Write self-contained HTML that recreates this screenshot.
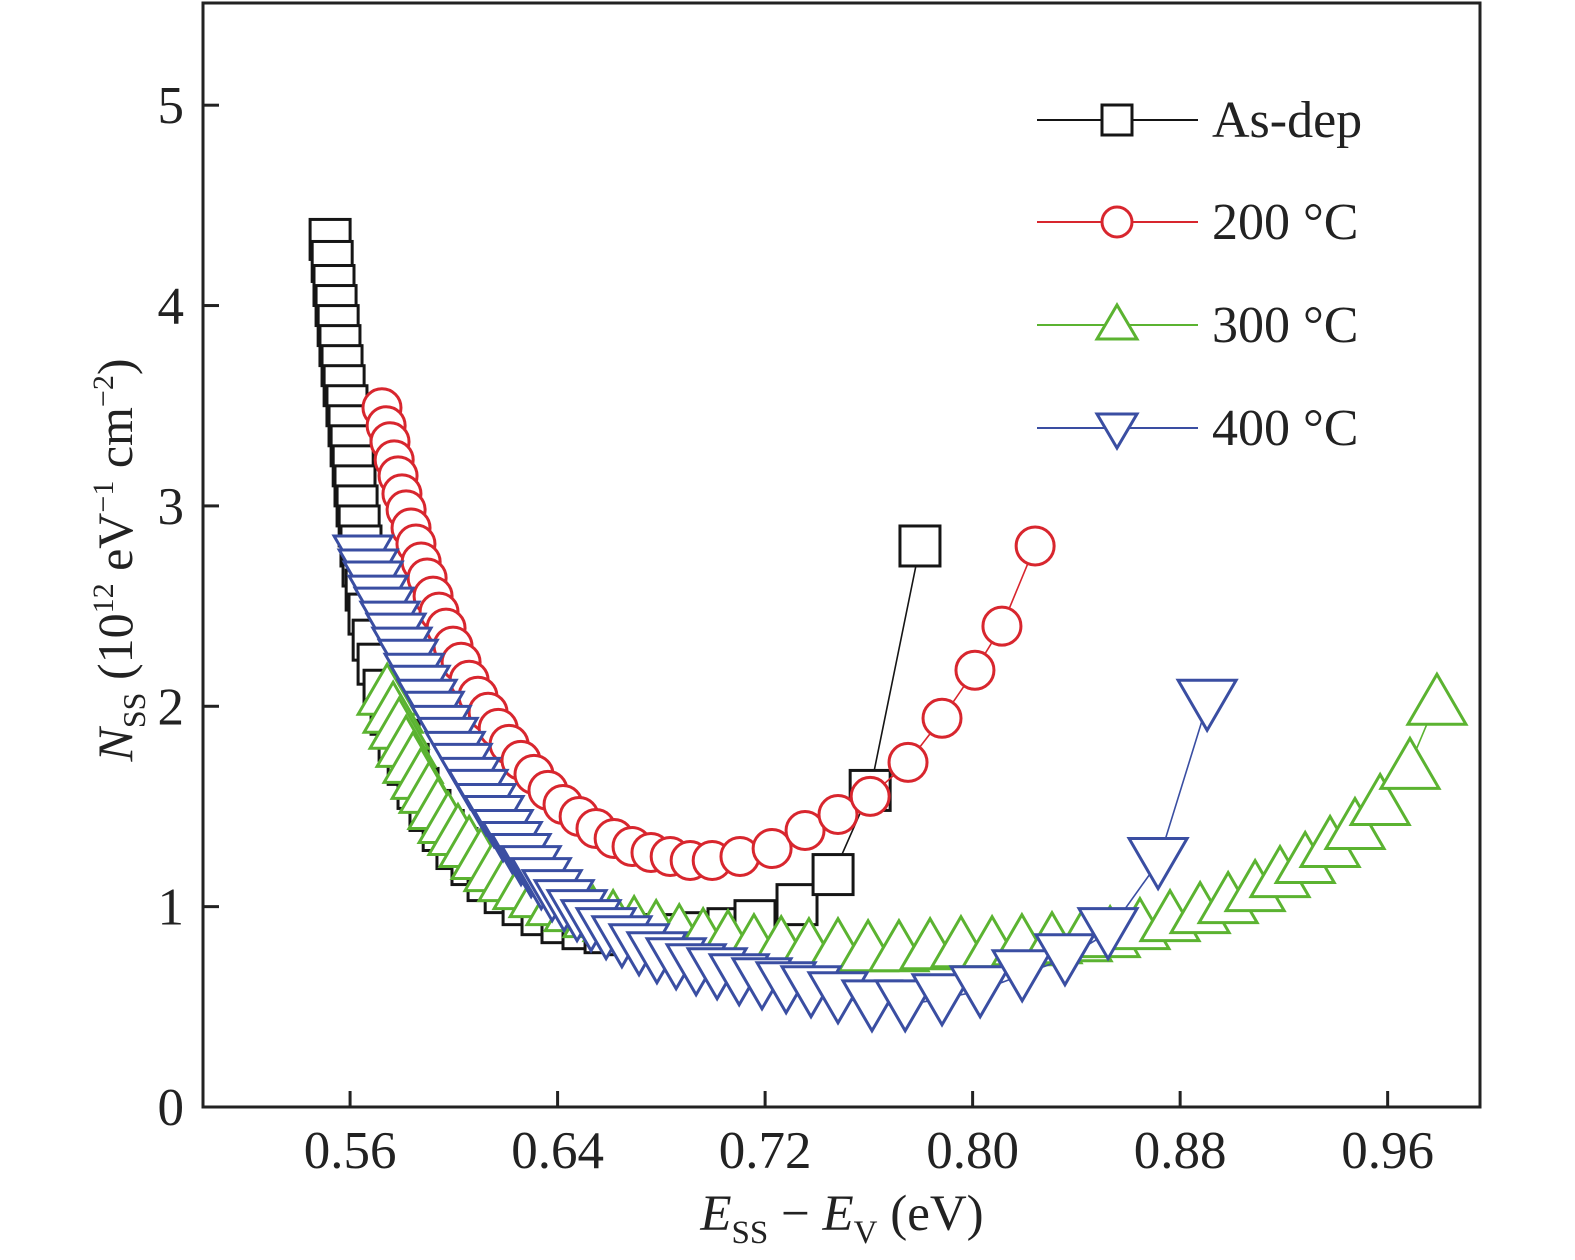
<!DOCTYPE html>
<html><head><meta charset="utf-8"><style>
html,body{margin:0;padding:0;background:#fff;}
svg{display:block;font-family:"Liberation Serif",serif;}
</style></head><body>
<svg id="chart" width="1575" height="1260" viewBox="0 0 1575 1260" xmlns="http://www.w3.org/2000/svg">
<rect x="0" y="0" width="1575" height="1260" fill="#fff"/>
<g id="axes"></g>
<g id="series"></g>
<g id="legend"></g>
<text x="842" y="1230" font-size="51" text-anchor="middle" fill="#222"><tspan font-style="italic">E</tspan><tspan font-size="33" dy="13">SS</tspan><tspan dy="-13"> − </tspan><tspan font-style="italic">E</tspan><tspan font-size="33" dy="13">V</tspan><tspan dy="-13"> (eV)</tspan></text>
<text transform="translate(132,560) rotate(-90)" font-size="50" text-anchor="middle" fill="#222"><tspan font-style="italic">N</tspan><tspan font-size="32" dy="13">SS</tspan><tspan dy="-13"> (10</tspan><tspan font-size="30" dy="-19">12</tspan><tspan dy="19"> eV</tspan><tspan font-size="30" dy="-19">−1</tspan><tspan dy="19"> cm</tspan><tspan font-size="30" dy="-19">−2</tspan><tspan dy="19">)</tspan></text>
</svg>
<script>
const xTicks=[0.56,0.64,0.72,0.80,0.88,0.96];
const xTickLabels=["0.56","0.64","0.72","0.80","0.88","0.96"];
const yTicks=[0,1,2,3,4,5];
const yTickLabels=["0","1","2","3","4","5"];
const seriesNames=["As-dep","200 °C","300 °C","400 °C"];
const asdepX=[.5523,.5531,.5538,.5546,.5554,.5561,.5569,.5577,.5588,.5596,.5604,.5612,.5619,.5627,.5635,.5642,.5650,.5662,.5673,.5689,.5708,.5731,.5758,.5789,.5824,.5862,.5908,.5959,.6012,.6070,.6132,.6198,.6267,.6340,.6417,.6498,.6583,.6672,.6764,.6861,.6957,.7057,.7161,.7323,.7462,.7605,.7797];
const asdepY=[4.33,4.22,4.10,4.00,3.90,3.80,3.70,3.60,3.50,3.40,3.30,3.20,3.10,3.00,2.90,2.80,2.70,2.58,2.46,2.33,2.21,2.08,1.96,1.83,1.71,1.59,1.48,1.38,1.29,1.21,1.13,1.07,1.01,0.96,0.92,0.89,0.87,0.86,0.86,0.86,0.87,0.89,0.93,1.01,1.16,1.58,2.80];
const c200X=[.5723,.5739,.5754,.5770,.5785,.5800,.5816,.5835,.5854,.5874,.5897,.5920,.5943,.5970,.5997,.6028,.6059,.6093,.6132,.6171,.6213,.6259,.6309,.6363,.6421,.6483,.6548,.6618,.6687,.6760,.6834,.6911,.6996,.7103,.7227,.7354,.7481,.7605,.7751,.7882,.8009,.8113,.8241];
const c200Y=[3.49,3.40,3.32,3.23,3.15,3.06,2.98,2.89,2.81,2.72,2.64,2.55,2.47,2.39,2.30,2.22,2.13,2.05,1.97,1.89,1.81,1.73,1.66,1.58,1.51,1.45,1.39,1.34,1.30,1.27,1.25,1.23,1.23,1.25,1.29,1.38,1.46,1.55,1.72,1.94,2.18,2.40,2.80];
const c300X=[.5743,.5766,.5789,.5816,.5843,.5874,.5905,.5939,.5978,.6016,.6059,.6105,.6155,.6209,.6267,.6329,.6394,.6464,.6537,.6614,.6695,.6780,.6869,.6961,.7057,.7157,.7262,.7369,.7481,.7597,.7716,.7836,.7955,.8075,.8190,.8306,.8422,.8530,.8645,.8761,.8877,.8985,.9089,.9185,.9282,.9378,.9474,.9571,.9686,.9790];
const c300Y=[2.08,1.99,1.91,1.82,1.74,1.66,1.59,1.51,1.44,1.38,1.32,1.26,1.20,1.15,1.11,1.07,1.03,1.00,0.97,0.95,0.92,0.90,0.88,0.86,0.85,0.83,0.82,0.81,0.81,0.80,0.80,0.81,0.82,0.82,0.83,0.84,0.85,0.87,0.91,0.95,0.99,1.04,1.10,1.17,1.24,1.32,1.41,1.53,1.71,2.03];
const c400X=[.5650,.5670,.5689,.5708,.5731,.5754,.5777,.5800,.5824,.5847,.5870,.5897,.5924,.5951,.5978,.6005,.6032,.6063,.6093,.6124,.6155,.6190,.6225,.6259,.6298,.6337,.6379,.6425,.6475,.6529,.6587,.6648,.6714,.6783,.6857,.6934,.7015,.7100,.7188,.7281,.7377,.7481,.7612,.7740,.7882,.8029,.8191,.8356,.8522,.8715,.8904];
const c400Y=[2.73,2.66,2.60,2.53,2.47,2.40,2.34,2.27,2.21,2.14,2.08,2.01,1.95,1.88,1.82,1.75,1.69,1.62,1.56,1.49,1.43,1.36,1.30,1.24,1.18,1.12,1.06,1.01,0.96,0.91,0.87,0.83,0.79,0.75,0.72,0.69,0.67,0.64,0.62,0.60,0.58,0.55,0.51,0.51,0.54,0.58,0.66,0.74,0.87,1.22,2.01];

const NS="http://www.w3.org/2000/svg";
const L=203,R=1480,T=3,B=1107;
const xMin=0.5033,xMax=0.9956,yMin=0,yMax=5.51;
function sx(v){return L+(v-xMin)/(xMax-xMin)*(R-L);}
function sy(v){return B-(v-yMin)/(yMax-yMin)*(B-T);}
function mk(tag,attrs,parent){const e=document.createElementNS(NS,tag);for(const k in attrs)e.setAttribute(k,attrs[k]);parent.appendChild(e);return e;}

const axes=document.getElementById('axes');
const frame=mk('rect',{x:L,y:T,width:R-L,height:B-T,fill:'none',stroke:'#222','stroke-width':3},axes);


xTicks.forEach((v,i)=>{
  const t=mk('line',{x1:sx(v),x2:sx(v),y1:B,y2:B-16,stroke:'#222','stroke-width':3},axes);
  
  
  const lb=mk('text',{x:sx(v),y:1168,'font-size':53,'text-anchor':'middle',fill:'#222'},axes);
  lb.textContent=xTickLabels[i];
  
  
});
yTicks.forEach((v,i)=>{
  const t=mk('line',{x1:L,x2:L+16,y1:sy(v),y2:sy(v),stroke:'#222','stroke-width':3},axes);
  
  
  const lb=mk('text',{x:184,y:sy(v)+18,'font-size':53,'text-anchor':'end',fill:'#222'},axes);
  lb.textContent=yTickLabels[i];
  
  
});

function marker(g,type,cx,cy,color){
  let e;
  if(type==='square') e=mk('rect',{x:cx-20,y:cy-20,width:40,height:40,fill:'#fff',stroke:color,'stroke-width':3},g);
  else if(type==='circle') e=mk('circle',{cx:cx,cy:cy,r:19,fill:'#fff',stroke:color,'stroke-width':3},g);
  else if(type==='up') e=mk('polygon',{points:`${cx-29},${cy+24} ${cx+29},${cy+24} ${cx},${cy-26}`,fill:'#fff',stroke:color,'stroke-width':3},g);
  else e=mk('polygon',{points:`${cx-29},${cy-24} ${cx+29},${cy-24} ${cx},${cy+26}`,fill:'#fff',stroke:color,'stroke-width':3},g);
  return e;
}
const seriesDefs=[
  {xs:asdepX,ys:asdepY,type:'square',color:'#151515',name:'series-as-dep'},
  {xs:c200X,ys:c200Y,type:'circle',color:'#d8262e',name:'series-200c'},
  {xs:c300X,ys:c300Y,type:'up',color:'#5bb331',name:'series-300c'},
  {xs:c400X,ys:c400Y,type:'down',color:'#3a4ea2',name:'series-400c'}
];
const sl=document.getElementById('series');
seriesDefs.forEach(s=>{
  const g=mk('g',{},sl);
  
  
  const pts=s.xs.map((x,i)=>sx(x)+','+sy(s.ys[i])).join(' ');
  const pl=mk('polyline',{points:pts,fill:'none',stroke:s.color,'stroke-width':1.6},g);
  
  
  s.xs.forEach((x,i)=>{
    const m=marker(g,s.type,sx(x),sy(s.ys[i]),s.color);
    
    
  });
});

const lg=document.getElementById('legend');
const legTypes=['square','circle','up','down'];
const legColors=['#151515','#d8262e','#5bb331','#3a4ea2'];
const legY=[120,222,325,428];
seriesNames.forEach((n,i)=>{
  const g=mk('g',{},lg);
  
  
  mk('line',{x1:1037,x2:1198,y1:legY[i],y2:legY[i],stroke:legColors[i],'stroke-width':2},g);
  const m=marker(g,legTypes[i],1117,legY[i],legColors[i]);
  if(i===0){m.setAttribute('x',1102);m.setAttribute('y',legY[i]-15);m.setAttribute('width',30);m.setAttribute('height',30);}
  if(i===1){m.setAttribute('r',15);}
  if(i>=2){const c=1117,y=legY[i];
    m.setAttribute('points', i===2?`${c-20},${y+14} ${c+20},${y+14} ${c},${y-20}`:`${c-20},${y-14} ${c+20},${y-14} ${c},${y+20}`);}
  const t=mk('text',{x:1212,y:legY[i]+17,'font-size':52,fill:'#222'},g);
  t.textContent=n;
  
  
});
</script>
</body></html>
